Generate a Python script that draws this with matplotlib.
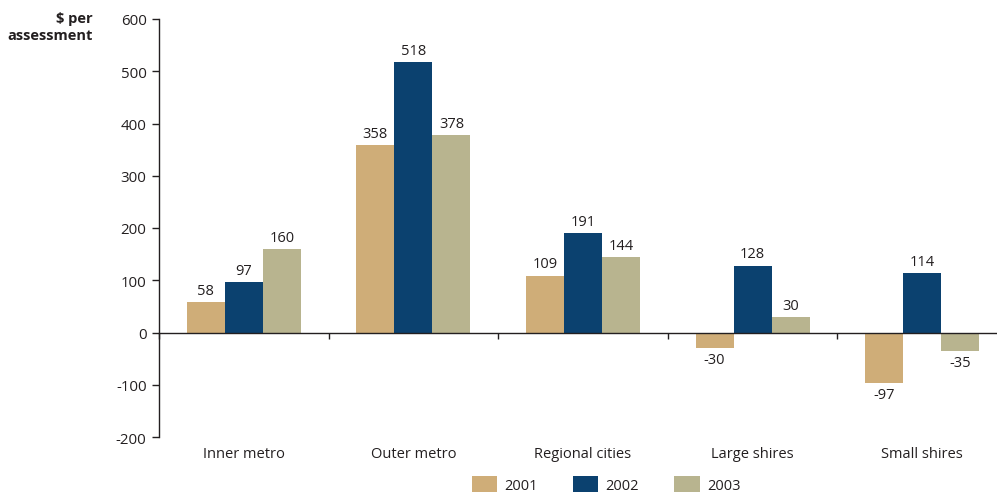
import numpy as np
import matplotlib
matplotlib.use("Agg")
import matplotlib.pyplot as plt
from matplotlib.patches import Patch
import matplotlib.transforms as mtransforms

plt.rcParams['font.family'] = ['Open Sans', 'DejaVu Sans']
plt.rcParams['axes.unicode_minus'] = False

categories = ["Inner metro", "Outer metro", "Regional cities", "Large shires", "Small shires"]
years = ["2001", "2002", "2003"]
values_2001 = [58, 358, 109, -30, -97]
values_2002 = [97, 518, 191, 128, 114]
values_2003 = [160, 378, 144, 30, -35]
y_ticks = [-200, -100, 0, 100, 200, 300, 400, 500, 600]

colors = ["#CFAD78", "#0B416F", "#B8B48F"]
text_color = "#231F20"

W, H = 997, 502
fig = plt.figure(figsize=(W / 100, H / 100), dpi=100)
# axes box in pixels: left 159, right 1007 (runs past the edge), top 20, bottom 438
ax = fig.add_axes([159 / W, (H - 438) / H, (1007 - 159) / W, (438 - 20) / H])

x = np.arange(len(categories))
width = 0.224
series = [values_2001, values_2002, values_2003]
for i, (vals, col) in enumerate(zip(series, colors)):
    pos = x + (i - 1) * width
    ax.bar(pos, vals, width=width, color=col, edgecolor='none', zorder=2)
    for xp, v in zip(pos, vals):
        if v >= 0:
            ax.annotate(str(v), (xp, v), xytext=(0, 3), textcoords='offset points',
                        ha='center', va='bottom', fontsize=10.5, color=text_color)
        else:
            ax.annotate(str(v), (xp, v), xytext=(0, -3), textcoords='offset points',
                        ha='center', va='top', fontsize=10.5, color=text_color)

ax.set_xlim(-0.5, len(categories) - 0.5)
ax.set_ylim(-200, 600)
ax.set_yticks(y_ticks)
ax.tick_params(axis='y', direction='out', length=5, width=1, colors=text_color,
               labelsize=10.8, pad=4)

# category boundaries as ticks on the zero line
ax.spines['bottom'].set_position(('data', 0))
ax.set_xticks(np.arange(len(categories) + 1) - 0.5)
ax.set_xticklabels([])
ax.tick_params(axis='x', direction='out', length=4, width=1, colors=text_color)
for s in ['top', 'right']:
    ax.spines[s].set_visible(False)
for s in ['left', 'bottom']:
    ax.spines[s].set_color(text_color)
    ax.spines[s].set_linewidth(1)

# category names sit below the plot area, not on the zero line
trans = mtransforms.blended_transform_factory(ax.transData, ax.transAxes)
offset = mtransforms.ScaledTranslation(0, -9 / 100, fig.dpi_scale_trans)
for xi, name in zip(x, categories):
    ax.text(xi, 0, name, transform=trans + offset, ha='center', va='top',
            fontsize=10.5, color=text_color)

fig.text(93 / W, 1 - 12 / H, "$ per\nassessment", ha='right', va='top',
         fontsize=10.5, fontweight='bold', color=text_color, linespacing=1.25)

handles = [Patch(facecolor=c, edgecolor='none') for c in colors]
fig.legend(handles, years, loc='lower center', bbox_to_anchor=(606 / W, -0.01),
           ncol=3, frameon=False, fontsize=10.5, handlelength=1.75, handleheight=1.3,
           columnspacing=2.4, handletextpad=0.5, labelcolor=text_color)

fig.savefig("out.png", dpi=100)
